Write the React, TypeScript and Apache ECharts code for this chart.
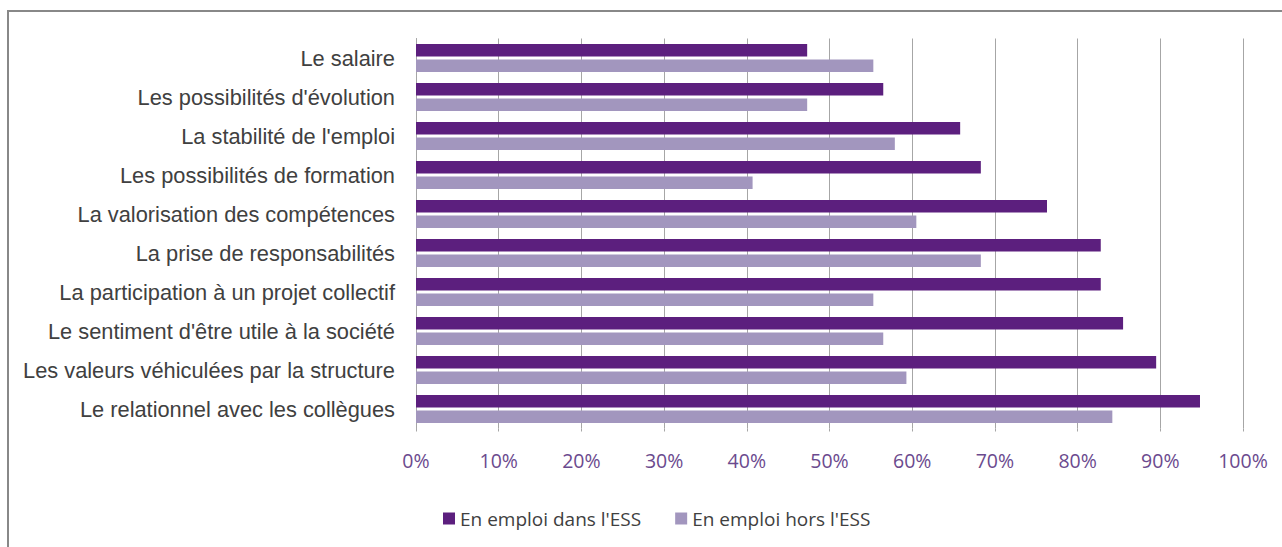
import React, { useEffect, useRef } from "react";
import * as echarts from "echarts";

const categories = [
  "Le salaire",
  "Les possibilités d'évolution",
  "La stabilité de l'emploi",
  "Les possibilités de formation",
  "La valorisation des compétences",
  "La prise de responsabilités",
  "La participation à un projet collectif",
  "Le sentiment d'être utile à la société",
  "Les valeurs véhiculées par la structure",
  "Le relationnel avec les collègues",
];
const seriesNames = ["En emploi dans l'ESS", "En emploi hors l'ESS"];
const dansESS = [47.3, 56.5, 65.8, 68.3, 76.3, 82.8, 82.8, 85.5, 89.5, 94.8];
const horsESS = [55.3, 47.3, 57.9, 40.7, 60.5, 68.3, 55.3, 56.5, 59.3, 84.2];

export default function App() {
  const ref = useRef<HTMLDivElement>(null);
  useEffect(() => {
    if (!ref.current) return;
    const chart = echarts.init(ref.current, null, { renderer: "svg" });
    chart.setOption({
      animation: false,
      backgroundColor: "#ffffff",
      graphic: [
        {
          type: "rect",
          shape: { x: 8, y: 11, width: 1300, height: 560 },
          style: { fill: "none", stroke: "#888888", lineWidth: 2 },
          silent: true,
        },
      ],
      grid: { left: 416, right: 39, top: 38.5, height: 390 },
      legend: {
        left: 438,
        top: 504,
        itemWidth: 12,
        itemHeight: 12,
        itemGap: 34,
        icon: "rect",
        data: seriesNames,
        textStyle: { fontSize: 19, color: "#404040", fontFamily: "Open Sans" },
      },
      xAxis: {
        type: "value",
        min: 0,
        max: 100,
        interval: 10,
        axisLine: { show: false },
        axisTick: { show: true, length: 3, lineStyle: { color: "#a6a6a6" } },
        splitLine: { show: true, lineStyle: { color: "#a6a6a6", width: 1 } },
        axisLabel: {
          formatter: "{value}%",
          color: "#6b4a8e",
          fontSize: 19.5,
          margin: 22,
          fontFamily: "Open Sans",
        },
      },
      yAxis: {
        type: "category",
        inverse: true,
        data: categories,
        axisLine: { show: true, lineStyle: { color: "#a6a6a6" } },
        axisTick: { show: false },
        axisLabel: {
          color: "#404040",
          fontSize: 21.8,
          margin: 21,
          fontFamily: "Liberation Sans",
        },
      },
      series: [
        {
          name: seriesNames[0],
          type: "bar",
          data: dansESS,
          barWidth: 12.5,
          barGap: "24%",
          itemStyle: { color: "#5c1f7e" },
        },
        {
          name: seriesNames[1],
          type: "bar",
          data: horsESS,
          barWidth: 12.5,
          itemStyle: { color: "#a296be" },
        },
      ],
    });
    return () => chart.dispose();
  }, []);
  return (
    <div
      ref={ref}
      style={{ position: "fixed", left: 0, top: 0, width: 1282, height: 547 }}
    />
  );
}
